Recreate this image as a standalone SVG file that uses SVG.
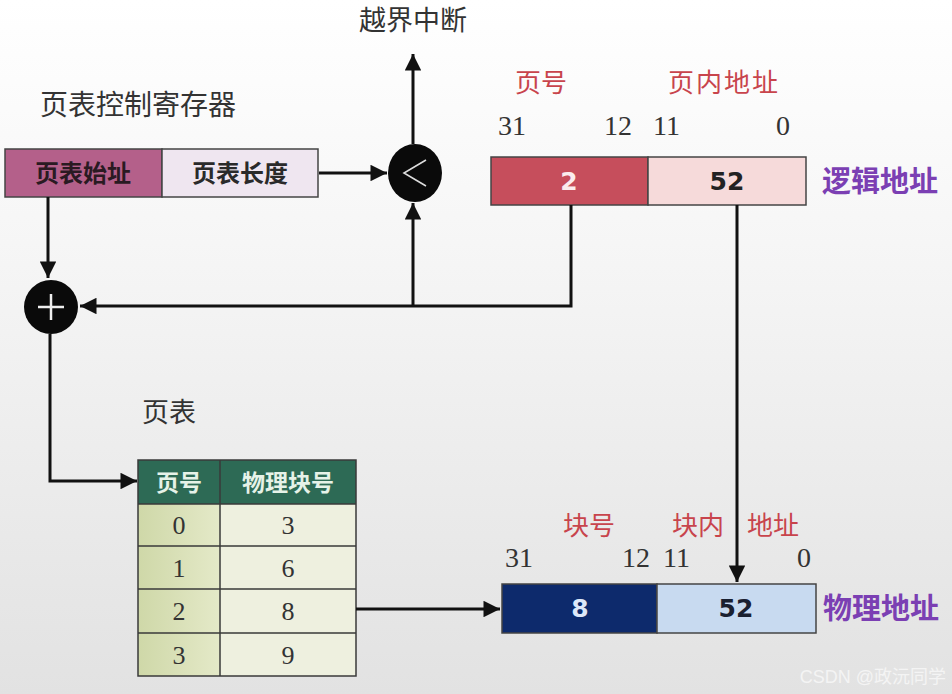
<svg xmlns="http://www.w3.org/2000/svg" width="952" height="694" viewBox="0 0 952 694">
<defs>
<linearGradient id="bg" x1="0" y1="0" x2="0" y2="1">
<stop offset="0" stop-color="#ffffff"/>
<stop offset="0.35" stop-color="#f6f6f6"/>
<stop offset="1" stop-color="#e2e2e2"/>
</linearGradient>
<linearGradient id="colL" x1="0" y1="0" x2="1" y2="0">
<stop offset="0" stop-color="#cfd8a8"/>
<stop offset="1" stop-color="#e4e9c8"/>
</linearGradient>
<marker id="ah" viewBox="0 0 10 10" refX="10" refY="5" markerWidth="6.5" markerHeight="5.5" orient="auto" markerUnits="strokeWidth">
<path d="M0,0 L10,5 L0,10 z" fill="#111"/>
</marker>
<style>
.cn{font-family:"Noto Sans CJK SC","Noto Sans",sans-serif}
.lbl{font-size:27px;fill:#333}
.red{font-size:26px;fill:#c8444c}
.pur{font-size:29px;fill:#7b3fb3;font-weight:bold}
.num{font-family:"Liberation Serif","DejaVu Serif",serif;font-size:28px;fill:#333}
.box{stroke:#444;stroke-width:1.5}
.bold{font-family:"DejaVu Sans","Noto Sans",sans-serif;font-weight:bold;font-size:25px}
.ln{fill:none;stroke:#111;stroke-width:3}
.cell{font-family:"Liberation Serif",serif;font-size:26px;fill:#333}
</style>
</defs>
<rect width="952" height="694" fill="url(#bg)"/>

<g id="title"><text x="413" y="30" class="cn lbl" text-anchor="middle">越界中断</text></g>

<g id="register">
<text x="40" y="115" class="cn" font-size="28" fill="#333">页表控制寄存器</text>
<rect x="5" y="149" width="157" height="48" fill="#b4608a" class="box"/>
<rect x="162" y="149" width="156" height="48" fill="#efe6f0" class="box"/>
<text x="83" y="182" class="cn" font-size="24" font-weight="bold" fill="#2a1a22" text-anchor="middle">页表始址</text>
<text x="240" y="182" class="cn" font-size="24" font-weight="bold" fill="#2a2a2a" text-anchor="middle">页表长度</text>
</g>

<g id="comparator">
<ellipse cx="415" cy="173" rx="27" ry="29" fill="#0a0a0a"/>
<path d="M426,160 L404,173 L426,186" fill="none" stroke="#ddd" stroke-width="1.6"/>
</g>

<g id="adder">
<circle cx="51" cy="307" r="27" fill="#0a0a0a"/>
<path d="M51,294 V320 M38,307 H64" stroke="#eee" stroke-width="2.5"/>
</g>

<g id="logical">
<text x="541" y="92" class="cn red" text-anchor="middle">页号</text>
<text x="724" y="92" class="cn red" text-anchor="middle" letter-spacing="2">页内地址</text>
<text x="498" y="135" class="num">31</text>
<text x="604" y="135" class="num">12</text>
<text x="653" y="135" class="num">11</text>
<text x="776" y="135" class="num">0</text>
<rect x="491" y="157" width="157" height="48" fill="#c64e5c" class="box"/>
<rect x="648" y="157" width="158" height="48" fill="#f6dada" class="box"/>
<text x="569" y="190" class="bold" fill="#fbecee" text-anchor="middle">2</text>
<text x="727" y="190" class="bold" fill="#222" text-anchor="middle">52</text>
<text x="822" y="192" class="cn pur">逻辑地址</text>
</g>

<g id="pagetable">
<text x="142" y="422" class="cn lbl">页表</text>
<rect x="138" y="460" width="218" height="44" fill="#2d6a55"/>
<rect x="138" y="504" width="82" height="172" fill="url(#colL)"/>
<rect x="220" y="504" width="136" height="172" fill="#eef0df"/>
<path d="M138,504 H356 M138,546 H356 M138,589 H356 M138,633 H356 M220,460 V676" stroke="#3a3a3a" stroke-width="1.5" fill="none"/>
<rect x="138" y="460" width="218" height="216" fill="none" stroke="#3a3a3a" stroke-width="1.5"/>
<text x="179" y="491" class="cn" font-size="23" font-weight="bold" fill="#e6f2e8" text-anchor="middle">页号</text>
<text x="288" y="491" class="cn" font-size="23" font-weight="bold" fill="#e6f2e8" text-anchor="middle">物理块号</text>
<text x="179" y="534" class="cell" text-anchor="middle">0</text>
<text x="288" y="534" class="cell" text-anchor="middle">3</text>
<text x="179" y="577" class="cell" text-anchor="middle">1</text>
<text x="288" y="577" class="cell" text-anchor="middle">6</text>
<text x="179" y="620" class="cell" text-anchor="middle">2</text>
<text x="288" y="620" class="cell" text-anchor="middle">8</text>
<text x="179" y="664" class="cell" text-anchor="middle">3</text>
<text x="288" y="664" class="cell" text-anchor="middle">9</text>
</g>

<g id="physical">
<text x="589" y="535" class="cn red" text-anchor="middle">块号</text>
<text x="698" y="535" class="cn red" text-anchor="middle">块内</text>
<text x="773" y="535" class="cn red" text-anchor="middle">地址</text>
<text x="505" y="567" class="num">31</text>
<text x="622" y="567" class="num">12</text>
<text x="663" y="567" class="num">11</text>
<text x="797" y="567" class="num">0</text>
<rect x="502" y="584" width="155" height="49" fill="#0d2a6c" class="box"/>
<rect x="657" y="584" width="159" height="49" fill="#c8daf0" class="box"/>
<text x="580" y="617" class="bold" fill="#dde8f8" text-anchor="middle">8</text>
<text x="736" y="617" class="bold" fill="#1a2030" text-anchor="middle">52</text>
<text x="823" y="619" class="cn pur">物理地址</text>
</g>

<g id="connectors">
<path class="ln" d="M413,144 V54" marker-end="url(#ah)"/>
<path class="ln" d="M319,173 H387" marker-end="url(#ah)"/>
<path class="ln" d="M48,197 V278" marker-end="url(#ah)"/>
<path class="ln" d="M571,205 V306 H80" marker-end="url(#ah)"/>
<path class="ln" d="M413,306 V203" marker-end="url(#ah)"/>
<path class="ln" d="M737,205 V582" marker-end="url(#ah)"/>
<path class="ln" d="M50,334 V481 H137" marker-end="url(#ah)"/>
<path class="ln" d="M356,609 H500" marker-end="url(#ah)"/>
</g>

<text x="946" y="683" font-family="Liberation Sans,Noto Sans CJK SC,sans-serif" font-size="18" fill="#f4f4f4" text-anchor="end">CSDN @政沅同学</text>
</svg>
